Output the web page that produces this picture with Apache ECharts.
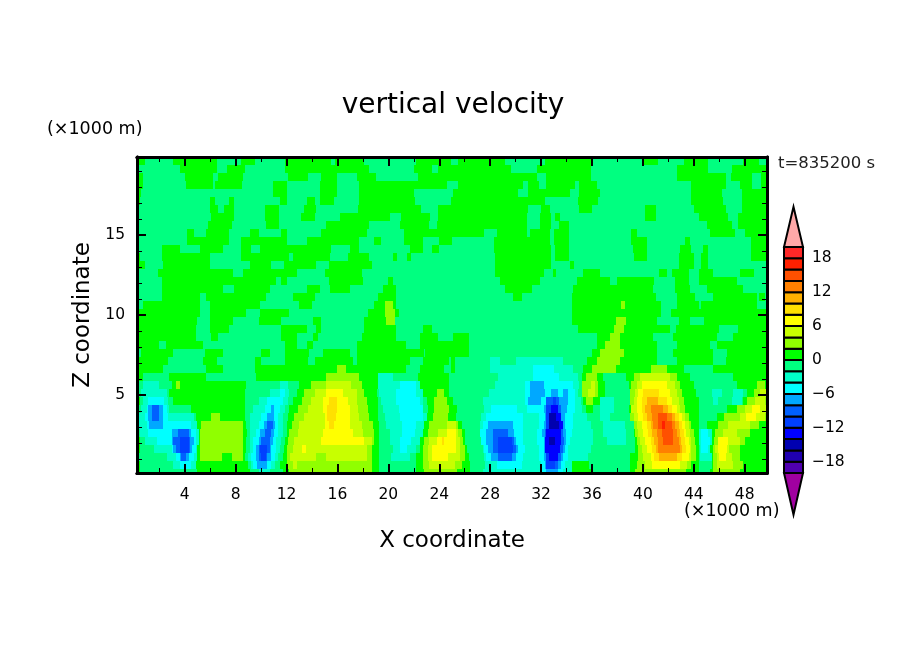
<!DOCTYPE html>
<html>
<head>
<meta charset="utf-8">
<script src="https://cdn.jsdelivr.net/npm/echarts@6/dist/echarts.min.js"></script>
<style>html,body{margin:0;background:#fff}</style>
</head>
<body>
<div id="main" style="width:904px;height:654px;"></div>
<script>
// z levels (km), top row first. Each row: w, x where that w ends, w, x where it ends, ...
var zLevels = [19.625,19.125,18.625,18.125,17.625,17.125,16.625,16.125,15.625,15.125,14.625,14.125,13.625,13.125,12.625,12.125,11.625,11.125,10.625,10.125,
  9.625,9.125,8.625,8.125,7.625,7.125,6.625,6.125,5.625,5.125,4.625,4.125,3.625,3.125,2.625,2.125,1.625,1.125,0.625,0.125];

var w19_6 = [1,.9,-1,3.1,1,6.5,-1,8.4,1,9.5,-1,11.85,1,15.5,-1,15.8,1,18.1,-1,22.2,1,24.9,-1,25.5,1,29.2,-1,32.3,1,35.9,-1,40.1,1,41.2,-1,43.2,1,45.1,-1,47.9,1,49.1,-1,50];
var w19_1 = [-1,3.6,1,6.5,-1,7.3,1,8.7,-1,11.85,1,18.5,-1,22,1,23.4,-1,23.9,1,29.6,-1,31.7,1,35.9,-1,42.7,1,45.1,-1,47,1,50];
var w18_6 = [1,.7,-1,4,1,6.2,-1,6.6,1,8.6,-1,12.1,1,13.7,-1,14.7,1,16,-1,17.5,1,19,-1,22.3,1,31.7,-1,32.4,1,35.9,-1,42.7,1,46.5,-1,46.9,1,48.6,-1,49.3,1,50];
var w18_1 = [1,.7,-1,4.1,1,6.2,-1,6.4,1,8.5,-1,10.9,1,12,-1,14.6,1,16,-1,17.7,1,24.6,-1,25.5,1,30.6,-1,31,1,31.8,-1,32.4,1,34.7,-1,35,1,36.4,-1,43.8,1,46.5,-1,47.6,1,48.6,-1,49.3,1,50];
var w17_6 = [1,.6,-1,10.9,1,12,-1,14.6,1,16,-1,17.7,1,22,-1,25.1,1,30.2,-1,31,1,34.3,-1,35,1,36.6,-1,43.8,1,46.2,-1,47.8,1,50];
var w17_1 = [1,.5,-1,6,1,6.4,-1,7.5,1,7.9,-1,11.5,1,12,-1,13.6,1,14.2,-1,14.6,1,15.7,-1,17.7,1,22.1,-1,24.9,1,32.3,-1,34.9,1,36.5,-1,43.8,1,46.3,-1,47.8,1,50];
var w16_6 = [-1,6,1,6.6,-1,7.1,1,7.9,-1,10.3,1,11.4,-1,13.4,1,14.3,-1,17.6,1,22.6,-1,23.9,1,31,-1,32,1,32.7,-1,35,1,36,-1,40.2,1,41,-1,44,1,46.5,-1,47.8,1,50];
var w16_1 = [-1,6.1,1,7.9,-1,10.3,1,11.4,-1,13.1,1,14.2,-1,16.2,1,20.1,-1,21,1,23.3,-1,23.9,1,30.9,-1,31.9,1,32.8,-1,33.1,1,33.5,-1,40.2,1,41,-1,44.4,1,46.7,-1,47.5,1,50];
var w15_6 = [-1,5.8,1,7.7,-1,10.4,1,11.4,-1,15.1,1,18.5,-1,20.9,1,23.2,-1,23.8,1,30.9,-1,31.9,1,32.8,-1,33.4,1,34.2,-1,45,1,47,-1,47.5,1,50];
var w15_1 = [-1,4.2,1,4.7,-1,5.7,1,7.5,-1,9.1,1,9.8,-1,11.6,1,12,-1,14.7,1,18.3,-1,21.2,1,27.5,-1,28.5,1,30.9,-1,31.1,1,32.7,-1,33,1,34.2,-1,39.1,1,39.5,-1,45.3,1,47.2,-1,48,1,50];
var w14_6 = [-1,4.2,1,7.5,-1,8.4,1,12,-1,13.6,1,17.7,-1,18.9,1,19.4,-1,21.2,1,22.7,-1,24,1,25,-1,28.3,1,32.7,-1,33,1,34.2,-1,39.1,1,40.3,-1,43.3,1,43.7,-1,48.5,1,50];
var w14_1 = [-1,2.2,1,3.6,-1,5.2,1,7,-1,8.4,1,9.2,-1,9.9,1,15.5,-1,17,1,17.7,-1,21.7,1,22.7,-1,23.4,1,24,-1,28.3,1,32.8,-1,33.1,1,34.2,-1,39.2,1,40.3,-1,42.9,1,43.8,-1,44.7,1,45.1,-1,48.5,1,50];
var w13_6 = [1,.5,-1,2.2,1,6,-1,8.4,1,12.2,-1,12.5,1,15.4,-1,16.8,1,18.5,-1,20.4,1,20.7,-1,21.5,1,21.8,-1,28.4,1,32.8,-1,33.1,1,34.2,-1,39.3,1,40.3,-1,42.8,1,44,-1,44.6,1,45.1,-1,48.5,1,50];
var w13_1 = [1,.9,-1,2.3,1,6,-1,9.1,1,10.8,-1,11.8,1,14.3,-1,15.3,1,18.7,-1,28.4,1,32.8,-1,34.3,1,34.6,-1,42.8,1,44,-1,44.6,1,45.1,-1,50];
var w12_6 = [-1,1.9,1,7.8,-1,8.6,1,12.8,-1,15,1,17.9,-1,28.4,1,32.2,-1,32.9,1,33.2,-1,35.3,1,36.6,-1,41.3,1,41.9,-1,42.3,1,43.6,-1,44.4,1,45.5,-1,47.6,1,48.7,-1,50];
var w12_1 = [-1,2.2,1,11.2,-1,11.6,1,12,-1,15.3,1,18,-1,20,1,20.4,-1,28.8,1,31.9,-1,34.8,1,37.4,-1,38,1,40.9,-1,42.5,1,43.6,-1,44.4,1,47.4,-1,50];
var w11_6 = [-1,2.2,1,7,-1,7.9,1,10.7,-1,13.6,1,14.6,-1,15.4,1,17,-1,19.6,1,20.6,-1,29.2,1,31.3,-1,34.5,1,40.8,-1,42.5,1,43.7,-1,45,1,47.9,-1,50];
var w11_1 = [-1,2.2,1,5.2,-1,5.7,1,10.4,-1,12.5,1,14.2,-1,19.2,1,20.6,-1,29.8,1,30.5,-1,34.4,1,41,-1,42.7,1,44.1,-1,45.5,1,49,-1,49.1,1,49.6,-1,50];
var w10_6 = [-1,.7,1,5.2,-1,6,1,9.9,-1,13,1,14,-1,18.9,1,19.7,3,20.4,1,20.6,-1,34.4,1,38.3,3,38.6,1,41.4,-1,42.7,1,44.4,-1,44.6,1,49,-1,50];
var w10_1 = [1,5.2,-1,6,1,8.8,-1,9.9,1,12.2,-1,18.4,1,19.7,3,20.5,1,20.8,-1,34.4,1,41.4,-1,42.2,1,50];
var w9_6 = [1,5,-1,6,1,7.8,-1,9.8,1,11.6,-1,14.1,1,14.7,-1,18.1,1,19.8,3,20.5,-1,34.4,1,37.9,3,38.7,1,41.1,-1,42.8,1,43.7,-1,44.8,1,50];
var w9_1 = [1,4.9,-1,6,1,7.5,-1,11.6,1,13.6,-1,14.3,1,14.7,-1,18.1,1,20.6,-1,22.7,1,23.4,-1,34.9,1,37.7,3,38.5,1,42.1,-1,42.6,1,46,-1,47.5,1,50];
var w8_6 = [1,4.9,-1,6.1,1,6.6,-1,11.6,1,12.8,-1,14.1,1,14.5,-1,17.9,1,20.6,-1,22.5,1,23.9,-1,25.1,1,26.3,-1,36.4,1,37.4,3,38.2,1,40.8,-1,42.4,1,45.8,-1,47.1,1,50];
var w8_1 = [1,2,-1,2.5,1,5.4,-1,11.9,1,12.8,-1,13.6,1,14.1,-1,17.5,1,21.4,-1,22.5,1,26.3,-1,36.4,1,37,3,38.2,1,41.1,-1,42.7,1,45.3,-1,45.8,1,50];
var w7_6 = [-1,.6,1,3.1,-1,5.6,1,7,-1,10,1,10.7,-1,11.9,1,13.8,-1,14.9,1,17,-1,17.5,1,22.8,-1,22.9,1,26.3,-1,36,1,36.6,3,38.5,1,41.1,-1,42.4,1,45.5,-1,46.6,1,50];
var w7_1 = [1,2.7,-1,5.4,1,6.5,-1,9.5,1,10,-1,11.9,1,13.7,-1,14.2,1,17.2,-1,17.5,1,21.7,-1,22.7,1,24.8,-1,24.9,1,25.2,-1,28,-3,28.8,-1,30,-3,33.7,-1,35.6,1,36.4,3,38.2,1,41.1,-1,42.7,1,45.5,-1,46.5,1,50];
var w6_6 = [1,2.3,-1,5.7,1,7,-1,9.5,1,16,3,16.7,1,21.4,-1,22.5,1,24.4,-1,24.9,1,25.2,-1,28,-3,31.4,-5,33,-3,34.5,-1,35.3,1,36,3,37.9,1,40.6,3,41.9,1,43.2,-1,45.5,1,50];
var w6_1 = [1,.7,-1,2.8,1,5.7,-1,9.6,1,15.1,3,17.7,1,19.2,-3,20.4,-1,22.3,1,24.8,-1,28.6,-3,31.4,-5,33.4,-3,34.9,-1,35.2,1,35.5,3,36.4,1,36.9,-1,38.7,1,39.3,3,39.8,5,42.1,3,42.7,1,43.7,-1,47.1,1,50];
var w5_6 = [-1,.7,-3,2,-1,3,1,3.3,3,3.6,1,8.8,-1,11.5,-3,12.1,-1,13,1,13.9,3,15.1,5,17.1,3,17.9,1,19.2,-3,20.9,-5,22.2,-3,22.5,1,24.8,-1,28.4,-3,30.7,-5,31.1,-7,32.2,-5,34.5,-3,35,-1,35.2,3,35.9,5,36.2,3,36.5,1,37,-1,38.9,1,39.1,3,39.5,5,39.9,7,41.9,5,42.5,3,42.9,1,44,-1,47.4,1,49,3,49.6,1,50];
var w5_1 = [1,.4,-1,.6,-3,2.6,-1,2.8,1,8.7,-1,10.7,-3,11.5,-5,11.9,-3,12.2,-1,12.8,1,13.4,3,14.2,5,15.1,7,16.4,5,17.5,3,18.1,1,19.1,-1,19.3,-3,20.6,-5,22.2,-3,22.7,1,23.8,3,24.4,1,24.8,-1,27.9,-3,30.7,-5,31.1,-7,32.3,-5,32.8,-7,33.3,-5,33.7,-7,34.1,-5,34.7,-3,34.9,-1,35.2,3,35.7,5,36.2,3,36.5,1,37,-1,39,3,39.4,5,39.6,7,40,9,41.3,7,42.1,5,42.7,3,43.1,1,44.2,-1,45.4,-3,46.2,-1,47.1,-3,47.9,-1,48.2,1,48.7,3,49.2,5,50];
var w4_6 = [1,.5,-1,.7,-3,1.1,-5,2.4,-3,2.7,-1,3.1,1,8.7,-1,9.8,-3,10.5,-5,11.7,-3,12.1,-1,12.5,1,13.2,3,13.9,5,14.9,7,15.3,9,16,7,16.8,5,17.5,3,18.3,1,19.2,-1,19.4,-3,20.6,-5,22.5,-3,22.7,-1,23,1,23.6,3,24.6,1,25.1,-1,27.4,-3,30.7,-5,31,-7,32,-5,32.4,-9,32.9,-11,33.2,-9,33.4,-7,34.1,-5,34.7,-3,35.1,-1,35.3,1,35.5,3,36.1,1,36.6,-3,37.7,-1,39,3,39.3,5,39.5,7,39.9,9,40.3,11,41.2,9,41.9,7,42.3,5,42.8,3,43.2,1,44.4,-1,45.5,-3,45.9,-1,47,-3,47.8,-1,47.9,1,48.2,3,48.8,5,49.6,3,50];
var w4_1 = [1,.3,-1,.6,-3,1,-5,1.1,-7,1.4,-9,2,-7,2.3,-5,2.6,-3,2.8,-1,4.5,1,8.7,-1,9.4,-3,10.3,-5,10.8,-7,11,-5,11.5,-3,11.9,-1,12.2,1,12.9,3,13.7,5,14.9,7,15.2,9,16,7,17,5,17.6,3,18.4,1,19.2,-1,19.6,-3,20.8,-5,22.7,-1,23.1,1,23.6,3,24.8,1,25.4,-1,27.5,-3,28.1,-5,30.1,-3,30.9,-5,32.2,-7,32.4,-11,32.8,-13,33.35,-9,33.6,-7,34,-5,34.7,-3,35.2,-1,35.5,1,36.1,-1,36.6,-3,37.7,-1,38.9,1,39.1,5,39.5,7,39.9,9,40.2,11,40.6,13,41.6,11,42,9,42.3,7,42.7,5,42.9,3,43.3,1,44.4,-1,46.6,1,47.4,3,48,5,48.6,7,49.2,5,50];
var w3_6 = [1,.3,-3,.9,-5,1.1,-7,1.4,-9,2,-7,2.3,-5,2.7,-3,4.7,-1,4.9,1,6.1,3,6.8,1,8.7,-1,9.1,-3,10,-5,10.5,-7,11,-5,11.3,-3,11.7,-1,12.1,1,12.6,3,13.4,5,15,7,15.2,9,15.9,7,17,5,17.7,3,18.5,1,19.2,-1,19.7,-3,20.9,-5,22.7,-3,23,1,23.5,3,24.7,1,25.3,-1,27.3,-3,27.7,-5,30.6,-3,31.8,-5,32.3,-7,32.4,-11,32.6,-15,33.2,-13,33.6,-7,33.9,-5,34.5,-3,35.6,-1,36.6,-3,37.4,-1,39,3,39.3,5,39.6,7,40,9,40.3,11,40.7,13,41.2,15,41.9,13,42.3,11,42.5,9,42.8,7,43.1,5,43.3,3,43.6,1,44.4,-1,45.8,1,46.4,3,47.6,5,48.1,7,48.9,5,49.6,3,50];
var w3_1 = [1,.3,-3,1,-5,1.2,-7,2.3,-5,4.5,-3,5,1,5.3,3,8.6,1,8.8,-1,9.1,-3,9.8,-5,10.2,-7,10.5,-9,10.9,-7,11.1,-5,11.3,-3,11.7,-1,12,1,12.4,3,13,5,15,7,15.3,9,15.7,7,17,5,17.9,3,18.8,1,19.3,-1,19.8,-3,21.1,-5,22.2,-3,22.8,1,23.2,3,24.6,5,25.3,3,25.5,1,25.8,-1,27.2,-3,27.4,-5,27.8,-7,29.8,-5,30.6,-3,31.8,-5,32.2,-7,32.4,-11,32.6,-15,33.4,-13,33.7,-7,33.9,-5,34.5,-3,35.9,-1,36.9,-3,38.6,-1,39.3,3,39.5,5,39.9,7,40.3,9,40.6,11,40.8,13,41.2,15,41.5,17,41.7,15,42.3,13,42.5,11,42.8,9,43.1,7,43.3,5,43.6,3,43.8,1,44.4,-1,45,1,45.9,3,46.7,5,48.4,3,49.1,1,50];
var w2_6 = [-1,.5,-3,1.1,-5,3,-7,3.5,-9,4.3,-7,4.5,-5,4.9,-3,5.1,1,5.2,3,8.6,1,8.9,-1,9.1,-3,9.6,-5,9.9,-7,10.3,-9,10.8,-7,11,-5,11.3,-3,11.7,-1,12,1,12.2,3,12.9,5,14.9,7,17.2,5,18,3,18.9,1,19.3,-1,20.1,-3,21.1,-5,22.1,-3,22.7,1,23.1,3,23.9,5,24.6,7,25.3,5,25.5,3,25.8,1,26,-1,27.2,-5,27.7,-7,28.2,-9,29.4,-7,29.9,-5,30.6,-3,31.7,-5,32.1,-7,32.3,-9,32.4,-13,33.6,-9,33.75,-7,33.95,-5,34.4,-3,36.1,-1,36.9,-3,38.7,-1,39.3,1,39.4,3,39.6,5,40,7,40.4,9,40.7,11,41.1,13,41.5,15,42.4,13,42.7,11,42.9,9,43.2,7,43.4,5,43.7,3,44,1,44.4,-3,44.6,-5,45.1,-3,45.4,1,45.7,3,46.3,5,47.4,3,48.4,1,50];
var w2_1 = [1,.5,-1,.9,-3,1.8,-5,3,-7,3.1,-9,3.6,-11,4.3,-9,4.4,-7,4.7,-5,4.9,-3,5.1,1,5.2,3,8.6,1,8.8,-1,9.1,-3,9.4,-5,9.8,-7,10,-9,10.7,-7,10.9,-5,11.2,-3,11.6,-1,11.9,1,12.1,3,12.6,5,14.7,7,18.1,5,18.7,3,18.9,1,19.3,-1,20.1,-3,20.9,-5,21.8,-3,22.5,1,22.8,3,23.2,5,23.8,7,24.2,9,24.4,7,25.3,5,25.6,3,25.9,1,26,-1,27.3,-5,27.7,-7,28.2,-9,28.6,-11,29.7,-9,29.9,-7,30,-5,30.6,-3,31.7,-5,32.2,-7,32.3,-13,32.6,-15,33.1,-13,33.6,-9,33.8,-7,33.95,-5,34.3,-3,36.1,-1,37.2,-3,38.7,-1,39.4,1,39.5,3,39.8,5,40.2,7,40.6,9,40.9,11,41.2,13,41.6,15,42.4,13,42.8,11,43,9,43.3,7,43.6,5,43.8,3,44.1,1,44.4,-3,44.6,-5,45.3,-3,45.4,1,45.6,3,45.9,7,46.7,5,47.6,3,48,1,50];
var w1_6 = [1,.5,-1,1.6,-3,3,-5,3.1,-7,3.3,-9,3.6,-11,4.3,-9,4.4,-7,4.6,-5,4.9,-3,5,1,5.2,3,8.6,1,8.8,-1,9.1,-3,9.4,-5,9.6,-7,9.8,-9,9.9,-11,10.5,-9,10.7,-7,10.8,-5,11.2,-3,11.5,-1,11.8,1,12,3,12.5,5,13.2,7,13.5,5,18.3,3,18.7,1,19.3,-1,20.4,-3,20.9,-5,21.5,-3,22.2,-1,22.5,1,22.7,3,23.1,5,23.4,7,25.3,5,25.6,3,26,1,26.2,-1,27.4,-3,27.5,-5,27.8,-7,28.2,-9,28.6,-11,29.8,-9,30,-7,30.2,-5,30.7,-3,31.8,-5,32.2,-7,32.3,-13,33.5,-9,33.75,-7,33.9,-5,34.1,-3,35.9,-1,39.4,1,39.6,3,39.9,5,40.3,7,40.7,9,41,11,41.2,13,42.9,11,43.1,9,43.4,7,43.7,5,43.8,3,44.2,1,44.4,-1,44.5,-3,44.6,-5,45.1,-3,45.3,1,45.5,3,45.7,5,45.9,7,46.6,5,46.8,3,47.6,1,50];
var w1_1 = [1,.3,-1,2.6,-3,3.3,-5,3.6,-7,3.7,-9,4.1,-7,4.3,-5,4.7,-3,5,1,5.2,3,6.9,1,7.7,3,8.6,1,8.7,-1,9,-3,9.2,-5,9.6,-7,9.8,-9,10,-11,10.4,-9,10.5,-7,10.8,-5,11.1,-3,11.3,-1,11.7,1,12,3,12.3,5,14.3,3,15.1,5,18.3,3,18.7,1,19.3,-1,20.2,-3,21.7,-1,22.2,1,22.7,3,23.1,5,23.4,7,24.7,5,25.6,3,26,1,26.3,-1,27.5,-3,27.7,-5,28.1,-7,28.6,-9,29.7,-7,30,-5,30.6,-3,31.8,-5,32.2,-7,32.4,-11,32.6,-13,33.35,-9,33.6,-7,33.75,-5,34.1,-3,35.7,-1,39,1,39.6,3,40,5,40.6,7,40.9,9,41.3,11,42.7,9,43.1,7,43.6,5,43.8,3,44.2,1,44.4,-1,44.5,-3,45.4,1,45.5,3,45.8,5,46,7,46.5,5,47,3,47.6,1,50];
var w0_6 = [1,.5,-1,3.1,-3,3.6,-5,4.5,-3,4.9,1,9,-1,9.2,-3,9.4,-5,9.7,-7,10.5,-5,10.8,-3,11.1,-1,11.5,1,12,3,12.5,5,12.8,3,18.7,1,19.3,-1,22.2,1,22.7,3,23.2,5,25.2,3,25.8,1,26.4,-1,27.6,-3,28.5,-5,30.5,-3,32,-5,32.3,-7,32.4,-11,33.1,-9,33.35,-7,33.55,-5,33.9,-3,34.4,1,35.8,-1,39,1,39.5,3,40.2,5,40.7,7,42.9,5,43.5,3,43.8,1,44.4,-1,45.4,1,45.5,3,45.8,5,47.1,3,47.9,1,50];
var w0_1 = [1,.5,-1,5,1,9.1,-1,9.8,-3,10.7,-1,11.7,1,12.2,3,18.7,1,19.3,-1,22.2,1,22.8,3,25.4,1,26.4,-1,27.4,-3,32.1,-5,32.4,-7,33.3,-5,33.7,-3,34.4,1,35.9,-1,39,1,39.4,3,43.4,1,44.4,-1,45.3,1,45.5,3,47.6,1,50];

var wRows = [w19_6,w19_1,w18_6,w18_1,w17_6,w17_1,w16_6,w16_1,w15_6,w15_1,w14_6,w14_1,w13_6,w13_1,w12_6,w12_1,w11_6,w11_1,w10_6,w10_1,
  w9_6,w9_1,w8_6,w8_1,w7_6,w7_1,w6_6,w6_1,w5_6,w5_1,w4_6,w4_1,w3_6,w3_1,w2_6,w2_1,w1_6,w1_1,w0_6,w0_1];

var bandLows = [-20,-18,-16,-14,-12,-10,-8,-6,-4,-2,0,2,4,6,8,10,12,14,16,18];
var bandColors = ['#5000b0','#2000b0','#0000b0','#0000ff','#0040ff','#0060ff','#00a8ff','#00ffff','#00ffc8','#00ff80',
  '#00ff00','#90ff00','#c8ff00','#ffff00','#ffe000','#ffb000','#ff8000','#ff5000','#ff2000','#ff2828'];
var barLabels = [-18,-12,-6,0,6,12,18];
var overEnds = [[20,27.1,'#ffa8a8'],[-20,-27.4,'#a000a0']];
var xMajor = [4,8,12,16,20,24,28,32,36,40,44,48];
var xMinor = [2,6,10,14,18,22,26,30,34,38,42,46];
var zMajor = [5,10,15];
var zMinor = [1,2,3,4,6,7,8,9,11,12,13,14,16,17,18,19];

function colorOf(w) {
  return bandColors[bandLows.indexOf(Math.floor(w / 2) * 2)];
}

// turn the rows into cells [x0, x1, z0, z1, w]
var cells = [];
wRows.forEach(function (row, r) {
  var x0 = 0;
  for (var i = 0; i < row.length; i += 2) {
    cells.push([x0, row[i + 1], zLevels[r] - 0.25, zLevels[r] + 0.25, row[i]]);
    x0 = row[i + 1];
  }
});

var tickFont = {fontFamily: 'DejaVu Sans', fontSize: 15.5, color: '#000'};

function frameAxis(type, pos, values, len, lw, extra) {
  var a = {
    type: 'value', position: pos, gridIndex: 0, z: 5,
    min: type == 'x' ? 0.25 : 0.125, max: type == 'x' ? 49.75 : 19.875,
    splitLine: {show: false},
    axisLine: {show: true, onZero: false, lineStyle: {color: '#000', width: 3}},
    axisTick: {show: true, inside: true, length: len, customValues: values, lineStyle: {color: '#000', width: lw}},
    axisLabel: {show: false}
  };
  return Object.assign(a, extra || {});
}

var myChart = echarts.init(document.getElementById('main'), null, {renderer: 'canvas'});

var option = {
  animation: false,
  backgroundColor: '#fff',
  title: {
    text: 'vertical velocity', left: 448, top: 87, textAlign: 'center',
    textStyle: {fontFamily: 'DejaVu Sans', fontSize: 28, fontWeight: 'normal', color: '#000'}
  },
  grid: [
    {left: 137, top: 157, width: 630, height: 316},
    {left: 784, top: 247, width: 19, height: 226}
  ],
  xAxis: [
    frameAxis('x', 'bottom', xMajor, 9, 2, {
      name: 'X coordinate', nameLocation: 'middle', nameGap: 57,
      nameTextStyle: {fontFamily: 'DejaVu Sans', fontSize: 23, color: '#000'},
      axisLabel: Object.assign({show: true, margin: 14, customValues: xMajor}, tickFont)
    }),
    frameAxis('x', 'top', xMajor, 9, 2),
    frameAxis('x', 'bottom', xMinor, 5, 1),
    frameAxis('x', 'top', xMinor, 5, 1),
    {type: 'value', gridIndex: 1, min: 0, max: 1, show: false}
  ],
  yAxis: [
    frameAxis('y', 'left', zMajor, 9, 2, {
      name: 'Z coordinate', nameLocation: 'middle', nameGap: 42, nameRotate: 90,
      nameTextStyle: {fontFamily: 'DejaVu Sans', fontSize: 23, color: '#000'},
      axisLabel: Object.assign({show: true, margin: 12, customValues: zMajor}, tickFont)
    }),
    frameAxis('y', 'right', zMajor, 9, 2),
    frameAxis('y', 'left', zMinor, 5, 1),
    frameAxis('y', 'right', zMinor, 5, 1),
    {
      type: 'value', gridIndex: 1, min: -20, max: 20, position: 'right', z: 5,
      splitLine: {show: false}, axisLine: {show: false}, axisTick: {show: false},
      axisLabel: Object.assign({
        margin: 9, customValues: barLabels,
        formatter: function (v) { return String(v).replace('-', '\u2212'); }
      }, tickFont)
    }
  ],
  series: [
    {
      type: 'custom', xAxisIndex: 0, yAxisIndex: 0, z: 1, clip: true, silent: true,
      data: cells, encode: {x: [0, 1], y: [2, 3]},
      renderItem: function (params, api) {
        var a = api.coord([api.value(0), api.value(3)]);
        var b = api.coord([api.value(1), api.value(2)]);
        var x0 = Math.round(a[0]), y0 = Math.round(a[1]);
        return {
          type: 'rect',
          shape: {x: x0, y: y0, width: Math.round(b[0]) - x0, height: Math.round(b[1]) - y0},
          style: {fill: colorOf(api.value(4))}
        };
      }
    },
    {
      type: 'custom', xAxisIndex: 4, yAxisIndex: 4, z: 3, clip: false, silent: true,
      data: bandLows.map(function (v, i) { return [v, v + 2, bandColors[i]]; }),
      encode: {y: [0, 1]},
      renderItem: function (params, api) {
        var a = api.coord([0, api.value(1)]);
        var b = api.coord([1, api.value(0)]);
        return {
          type: 'rect',
          shape: {x: a[0], y: a[1], width: b[0] - a[0], height: b[1] - a[1]},
          style: {fill: bandColors[params.dataIndex], stroke: '#000', lineWidth: 2}
        };
      }
    },
    {
      type: 'custom', xAxisIndex: 4, yAxisIndex: 4, z: 3, clip: false, silent: true,
      data: overEnds.map(function (d) { return [d[0], d[1]]; }),
      encode: {y: [0, 1]},
      renderItem: function (params, api) {
        var base = api.value(0), tip = api.value(1);
        return {
          type: 'polygon',
          shape: {points: [api.coord([0, base]), api.coord([1, base]), api.coord([0.5, tip])]},
          style: {fill: overEnds[params.dataIndex][2], stroke: '#000', lineWidth: 2}
        };
      }
    }
  ],
  graphic: [
    {type: 'text', left: 47, top: 120, style: {text: '(\u00d71000 m)', font: '17.5px "DejaVu Sans"', fill: '#000'}},
    {type: 'text', left: 684, top: 502, style: {text: '(\u00d71000 m)', font: '17.5px "DejaVu Sans"', fill: '#000'}},
    {type: 'text', left: 778, top: 155, style: {text: 't=835200 s', font: '16.5px "DejaVu Sans"', fill: '#222'}}
  ]
};

myChart.setOption(option);
</script>
</body>
</html>
